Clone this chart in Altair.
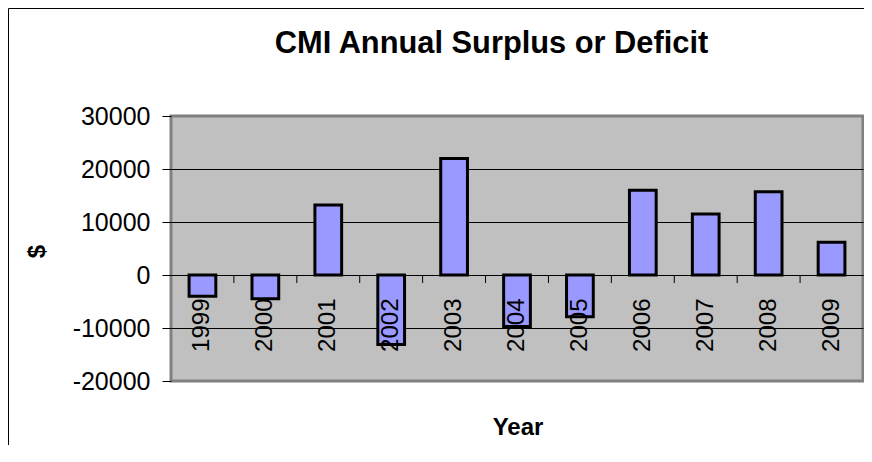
import altair as alt
import pandas as pd

years = ["1999", "2000", "2001", "2002", "2003", "2004", "2005", "2006", "2007", "2008", "2009"]
values = [-4000, -4500, 13200, -13100, 22000, -9700, -7900, 16000, 11500, 15700, 6200]
y_ticks = [-20000, -10000, 0, 10000, 20000, 30000]
title_text = "CMI Annual Surplus or Deficit"
x_title = "Year"
y_title = "$"

FONT = "Liberation Sans"
W, H = 692, 265
PAD_INNER = 0.575
STEP = W / len(years)

df = pd.DataFrame({"Year": years, "Value": values})
tick_df = pd.DataFrame({"Year": years[1:]})

x_scale = alt.Scale(domain=years, paddingInner=PAD_INNER, paddingOuter=PAD_INNER / 2)
y_scale = alt.Scale(domain=[-20000, 30000], nice=False)

bars = alt.Chart(df).mark_bar(
    color="#9999FF", stroke="black", strokeWidth=3
).encode(
    x=alt.X(
        "Year:N",
        sort=years,
        scale=x_scale,
        axis=alt.Axis(
            title=x_title,
            titleFont=FONT,
            titleFontSize=24,
            titleFontWeight="bold",
            titleColor="black",
            titleX=346.5,
            titleY=159,
            titleAlign="center",
            titleBaseline="alphabetic",
            labelAngle=270,
            labelFont=FONT,
            labelFontSize=24,
            labelColor="black",
            labelPadding=23,
            ticks=False,
            domainColor="black",
            domainWidth=1,
            offset=-106,
            grid=False,
            zindex=1,
        ),
    ),
    y=alt.Y(
        "Value:Q",
        scale=y_scale,
        axis=alt.Axis(
            values=y_ticks,
            labelExpr="'' + datum.value",
            labelFont=FONT,
            labelFontSize=25,
            labelColor="black",
            labelPadding=12,
            tickSize=9,
            tickColor="black",
            domain=False,
            grid=True,
            gridColor=alt.condition(
                "datum.value >= 30000 || datum.value <= -20000",
                alt.value("#808080"),
                alt.value("black"),
            ),
            gridWidth=1,
            title=y_title,
            titleFont=FONT,
            titleFontSize=24,
            titleFontWeight="bold",
            titleColor="black",
            titleAngle=270,
            titleX=-133.5,
            titleY=135,
            titleAlign="center",
            titleBaseline="middle",
            zindex=0,
        ),
    ),
)

# category-boundary tick marks hanging below the zero line
ticks = alt.Chart(tick_df).mark_rule(
    color="black", strokeWidth=1, xOffset=-PAD_INNER * STEP / 2, y2Offset=8
).encode(
    x=alt.X("Year:N", bandPosition=0, scale=x_scale, sort=years),
    y=alt.YDatum(0),
    y2=alt.Y2Datum(0),
)

one = pd.DataFrame({"t": [title_text]})

title = alt.Chart(one).mark_text(
    font=FONT, fontSize=30.8, fontWeight="bold", color="black",
    align="center", baseline="alphabetic"
).encode(text="t:N", x=alt.value(320.5), y=alt.value(-63))

frame_left = alt.Chart(one).mark_rule(color="black", strokeWidth=1).encode(
    x=alt.value(-162.5), x2=alt.value(-162.5), y=alt.value(-107.5), y2=alt.value(329)
)
frame_top = alt.Chart(one).mark_rule(color="black", strokeWidth=1).encode(
    x=alt.value(-162.5), x2=alt.value(W + 1), y=alt.value(-107.5), y2=alt.value(-107.5)
)

chart = alt.layer(bars, ticks, title, frame_left, frame_top).properties(
    width=W,
    height=H,
    autosize=alt.AutoSizeParams(type="none"),
    padding={"left": 163, "top": 108, "right": 1, "bottom": 64},
    background="white",
).configure_view(
    fill="#C0C0C0", stroke="#808080", strokeWidth=3
)

chart.save("out.html", embed_options={"renderer": "svg", "actions": False})
